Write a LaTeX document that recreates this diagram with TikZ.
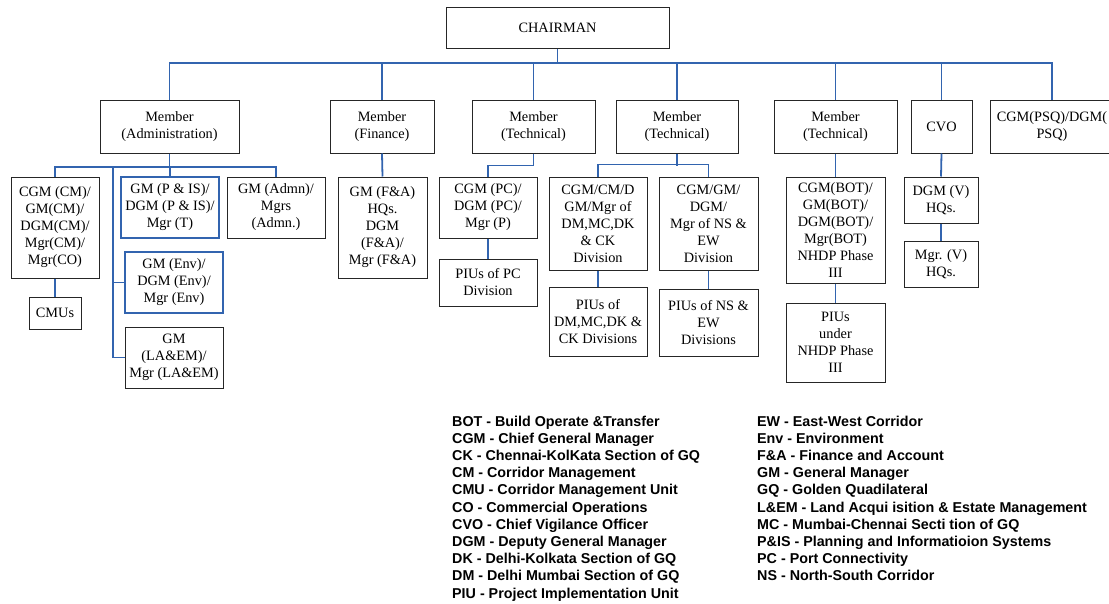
\documentclass[tikz,border=0pt]{standalone}
\usepackage{fontspec}
\setmainfont{Liberation Serif}
\newfontfamily\legendfont{Liberation Sans}
\definecolor{linkblue}{RGB}{50,100,175}
% box from its corners: [style]{name}{x1}{y1}{x2}{y2}{text}
\newcommand\orgbox[7][]{%
  \node[box,#1,minimum width={(#5-#3)*1pt},minimum height={(#6-#4)*1pt}]
    (#2) at ({(#3+#5)/2},{(#4+#6)/2}) {#7};}
\begin{document}
\begin{tikzpicture}[x=1pt,y=-1pt,
  box/.style={draw=black!85, line width=1pt, align=center, inner sep=0pt,
    font=\fontsize{14.3}{17}\selectfont},
  bluebox/.style={draw=linkblue, line width=1.8pt},
  conn/.style={draw=linkblue, line width=1.8pt},
  leg/.style={inner sep=0pt, font=\legendfont\bfseries\fontsize{14.3}{17}\selectfont}]
\useasboundingbox (0,0) rectangle (1109,603);

% top level
\orgbox{chair}{446}{7}{669}{48}{CHAIRMAN}
\orgbox{madm}{100}{100}{239}{153}{Member\\(Administration)}
\orgbox{mfin}{330}{100}{434}{153}{Member\\(Finance)}
\orgbox{mtone}{472}{100}{595}{153}{Member\\(Technical)}
\orgbox{mttwo}{616}{100}{738}{153}{Member\\(Technical)}
\orgbox{mtthree}{774}{100}{897}{153}{Member\\(Technical)}
\orgbox{cvo}{911}{100}{972}{153}{CVO}
\orgbox{psq}{990}{100}{1114}{153}{CGM(PSQ)/DGM(\\PSQ)}

% administration
\orgbox{cgmcm}{11}{177}{99}{278}{CGM (CM)/\\GM(CM)/\\DGM(CM)/\\Mgr(CM)/\\Mgr(CO)}
\orgbox{cmus}{29}{297}{81}{329}{CMUs}
\orgbox[bluebox]{pis}{121}{177}{219}{238}{GM (P \& IS)/\\DGM (P \& IS)/\\Mgr (T)}
\orgbox{gmadmn}{227}{177}{325}{238}{GM (Admn)/\\Mgrs\\(Admn.)}
\orgbox[bluebox]{env}{125}{252}{223}{313}{GM (Env)/\\DGM (Env)/\\Mgr (Env)}
\orgbox{laem}{125}{327}{223}{388}{GM\\(LA\&EM)/\\Mgr (LA\&EM)}

% finance
\orgbox{fa}{338}{177}{427}{278}{GM (F\&A)\\HQs.\\DGM\\(F\&A)/\\Mgr (F\&A)}

% technical
\orgbox{pc}{439}{177}{537}{238}{CGM (PC)/\\DGM (PC)/\\Mgr (P)}
\orgbox{piupc}{439}{259}{537}{306}{PIUs of PC\\Division}
\orgbox{dm}{549}{177}{647}{270}{CGM/CM/D\\GM/Mgr of\\DM,MC,DK\\\& CK\\Division}
\orgbox{piudm}{549}{287}{647}{356}{PIUs of\\DM,MC,DK \&\\CK Divisions}
\orgbox{ns}{659}{177}{758}{270}{CGM/GM/\\DGM/\\Mgr of NS \&\\EW\\Division}
\orgbox{piuns}{659}{289}{758}{356}{PIUs of NS \&\\EW\\Divisions}
\orgbox{bot}{786}{177}{885}{283}{CGM(BOT)/\\GM(BOT)/\\DGM(BOT)/\\Mgr(BOT)\\NHDP Phase\\III}
\orgbox{piunh}{786}{303}{885}{382}{PIUs\\under\\NHDP Phase\\III}

% vigilance
\orgbox{dgmv}{904}{177}{978}{223}{DGM (V)\\HQs.}
\orgbox{mgrv}{904}{241}{978}{287}{Mgr. (V)\\HQs.}

% connectors
\coordinate (bus) at (0,63);
\draw[conn] (chair.south) -- (chair.south |- bus);
\draw[conn] (madm.north) -- (madm.north |- bus) -- (psq.north |- bus) -- (psq.north);
\foreach \m in {mfin,mtone,mttwo,mtthree,cvo}
  \draw[conn] (\m.north) -- (\m.north |- bus);

\coordinate (abus) at (0,167);
\coordinate (spine) at (113,167);
\draw[conn] (madm.south) -- (madm.south |- abus);
\draw[conn] (cgmcm.north) -- (cgmcm.north |- abus) -| (gmadmn.north);
\draw[conn] (pis.north) -- (pis.north |- abus);
\draw[conn] (spine) |- (laem.west);
\draw[conn] (spine |- env.west) -- (env.west);
\draw[conn] (cgmcm.south) -- (cmus.north);

\draw[conn] (mfin.south) -- (fa.north);
\draw[conn] (mtone.south) -- ++(0,12) -| (pc.north);
\draw[conn] (pc.south) -- (piupc.north);
\draw[conn] (mttwo.south) -- ++(0,12);
\draw[conn] (dm.north) -- ++(0,-12) -| (ns.north);
\draw[conn] (dm.south) -- (piudm.north);
\draw[conn] (ns.south) -- (piuns.north);
\draw[conn] (mtthree.south) -- (bot.north);
\draw[conn] (bot.south) -- (piunh.north);
\draw[conn] (cvo.south) -- (dgmv.north);
\draw[conn] (dgmv.south) -- (mgrv.north);

% abbreviations
\foreach \t [count=\i] in {BOT - Build Operate \&Transfer,
  CGM - Chief General Manager,
  CK - Chennai-KolKata Section of GQ,
  CM - Corridor Management,
  CMU - Corridor Management Unit,
  CO - Commercial Operations,
  CVO - Chief Vigilance Officer,
  DGM - Deputy General Manager,
  DK - Delhi-Kolkata Section of GQ,
  DM - Delhi Mumbai Section of GQ,
  PIU - Project Implementation Unit}
  \node[leg,anchor=base west] (legl\i) at (452,{426+17.2*(\i-1)}) {\t};
\foreach \t [count=\i] in {EW - East-West Corridor,
  Env - Environment,
  F\&A - Finance and Account,
  GM - General Manager,
  GQ - Golden Quadilateral,
  L\&EM - Land Acqui isition \& Estate Management,
  MC - Mumbai-Chennai Secti tion of GQ,
  P\&IS - Planning and Informatioion Systems,
  PC - Port Connectivity,
  NS - North-South Corridor}
  \node[leg,anchor=base west] (legr\i) at (757,{426+17.2*(\i-1)}) {\t};
\end{tikzpicture}
\end{document}
